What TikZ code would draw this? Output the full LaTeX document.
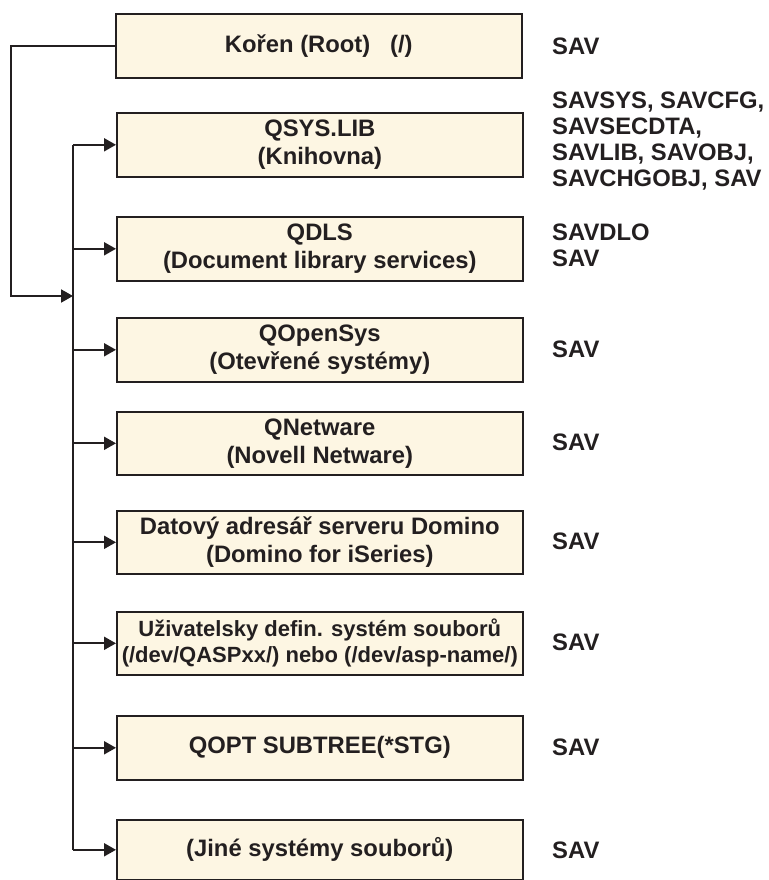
\documentclass[tikz,border=0pt]{standalone}
\usepackage{fontspec}
\setmainfont{Liberation Sans}
\usetikzlibrary{arrows.meta}
\definecolor{boxfill}{HTML}{FDF6E3}
\definecolor{ink}{HTML}{231F20}
\begin{document}
\begin{tikzpicture}[x=1pt,y=-1pt,
  fsbox/.style={draw=ink, fill=boxfill, line width=1.6pt, minimum width=406pt,
    inner sep=0pt, align=center, anchor=north west, text=ink,
    font=\bfseries\fontsize{23.8}{28}\selectfont},
  savlabel/.style={anchor=west, align=left, inner sep=0pt, text=ink,
    font=\bfseries\fontsize{23.8}{26}\selectfont},
  conn/.style={draw=ink, line width=2pt},
  arr/.style={conn, -{Triangle[length=12pt,width=13pt]}}]
\useasboundingbox (0,0) rectangle (768,880);

\node[fsbox, minimum height=64pt] (root) at (115,13) {Kořen (Root)\ \ \ (/)};
\node[fsbox, minimum height=64pt] (qsys) at (116,112) {QSYS.LIB\\(Knihovna)};
\node[fsbox, minimum height=64pt] (qdls) at (116,216) {QDLS\\(Document library services)};
\node[fsbox, minimum height=64pt] (qopen) at (116,317) {QOpenSys\\(Otevřené systémy)};
\node[fsbox, minimum height=63pt] (qnet) at (116,411) {QNetware\\(Novell Netware)};
\node[fsbox, minimum height=63pt] (domino) at (116,510) {Datový adresář serveru Domino\\(Domino for iSeries)};
\node[fsbox, minimum height=63pt, font=\bfseries\fontsize{22}{26}\selectfont] (user) at (116,611) {Uživatelsky defin. systém souborů\\(/dev/QASPxx/) nebo (/dev/asp-name/)};
\node[fsbox, minimum height=64pt] (qopt) at (116,715) {QOPT SUBTREE(*STG)};
\node[fsbox, minimum height=60pt] (jine) at (116,819) {(Jiné systémy souborů)};

\node[savlabel] (s1) at (552,46) {SAV};
\node[savlabel] (s2) at (552,141.5) {SAVSYS, SAVCFG,\\SAVSECDTA,\\SAVLIB, SAVOBJ,\\SAVCHGOBJ, SAV};
\node[savlabel] (s3) at (552,245) {SAVDLO\\SAV};
\node[savlabel] (s4) at (552,349) {SAV};
\node[savlabel] (s5) at (552,442) {SAV};
\node[savlabel] (s6) at (552,541) {SAV};
\node[savlabel] (s7) at (552,642) {SAV};
\node[savlabel] (s8) at (552,747) {SAV};
\node[savlabel] (s9) at (552,850) {SAV};

\coordinate (outer) at (11,0);
\coordinate (trunk) at (73,0);
\coordinate (join) at (73,296);

\draw[arr] (root.west) -- (root.west -| outer) |- (join);
\draw[conn] (qsys.west -| trunk) -- (jine.west -| trunk);
\foreach \b in {qsys,qdls,qopen,qnet,domino,user,qopt,jine}
  \draw[arr] (\b.west -| trunk) -- (\b.west);
\end{tikzpicture}
\end{document}
